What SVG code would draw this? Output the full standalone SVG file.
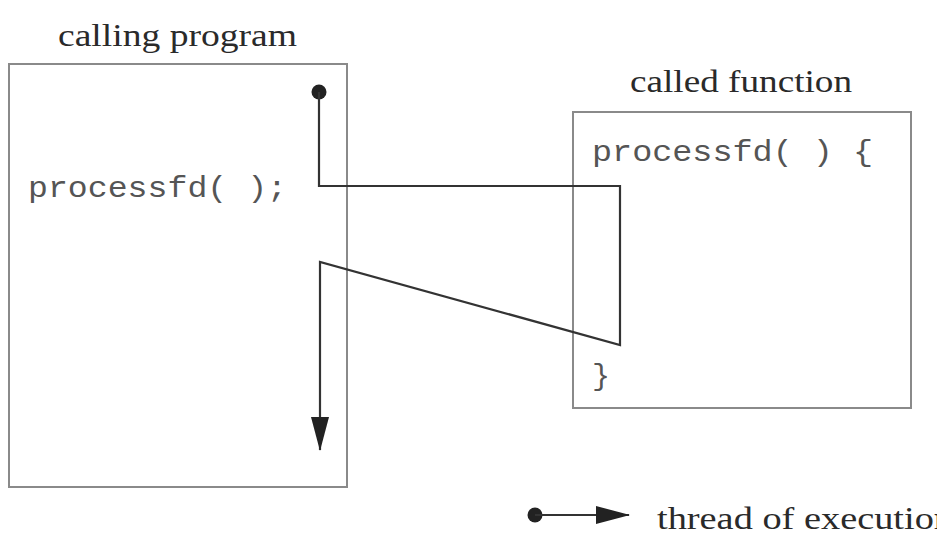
<svg xmlns="http://www.w3.org/2000/svg" width="937" height="537" viewBox="0 0 937 537">
<style>
.box{fill:none;stroke:#8a8a8a;stroke-width:2}
.flow{fill:none;stroke:#333;stroke-width:2.2;stroke-linejoin:miter}
.lbl{font-family:"Liberation Serif",serif;font-size:32px;fill:#2a2a2a}
.code{font-family:"Liberation Mono",monospace;font-size:30px;fill:#555}
</style>
<defs>
<marker id="arr" viewBox="0 0 34 18" refX="33" refY="9" markerWidth="34" markerHeight="18" markerUnits="userSpaceOnUse" orient="auto">
<path d="M0,0 L34,9 L0,18 Z" fill="#222"/>
</marker>
</defs>
<rect width="937" height="537" fill="#fff"/>
<g id="calling-program">
<rect class="box" x="9" y="64" width="338" height="423"/>
<text class="lbl" x="58" y="46" textLength="239" lengthAdjust="spacingAndGlyphs">calling program</text>
<text class="code" x="28" y="197" textLength="259" lengthAdjust="spacingAndGlyphs">processfd( );</text>
</g>
<g id="called-function">
<rect class="box" x="573" y="112" width="338" height="296"/>
<text class="lbl" x="630" y="92" textLength="222" lengthAdjust="spacingAndGlyphs">called function</text>
<text class="code" x="592" y="161" textLength="281" lengthAdjust="spacingAndGlyphs">processfd( ) {</text>
<text class="code" x="592" y="385">}</text>
</g>
<g id="connectors">
<circle cx="319" cy="92" r="7.5" fill="#222"/>
<polyline class="flow" points="319,92 319,186 620,186 620,345 320,262 320,450" marker-end="url(#arr)"/>
</g>
<g id="legend">
<circle cx="535" cy="515" r="7.5" fill="#222"/>
<line class="flow" x1="535" y1="515" x2="629" y2="515" marker-end="url(#arr)"/>
<text class="lbl" x="657" y="529" textLength="296" lengthAdjust="spacingAndGlyphs">thread of execution</text>
</g>
</svg>
